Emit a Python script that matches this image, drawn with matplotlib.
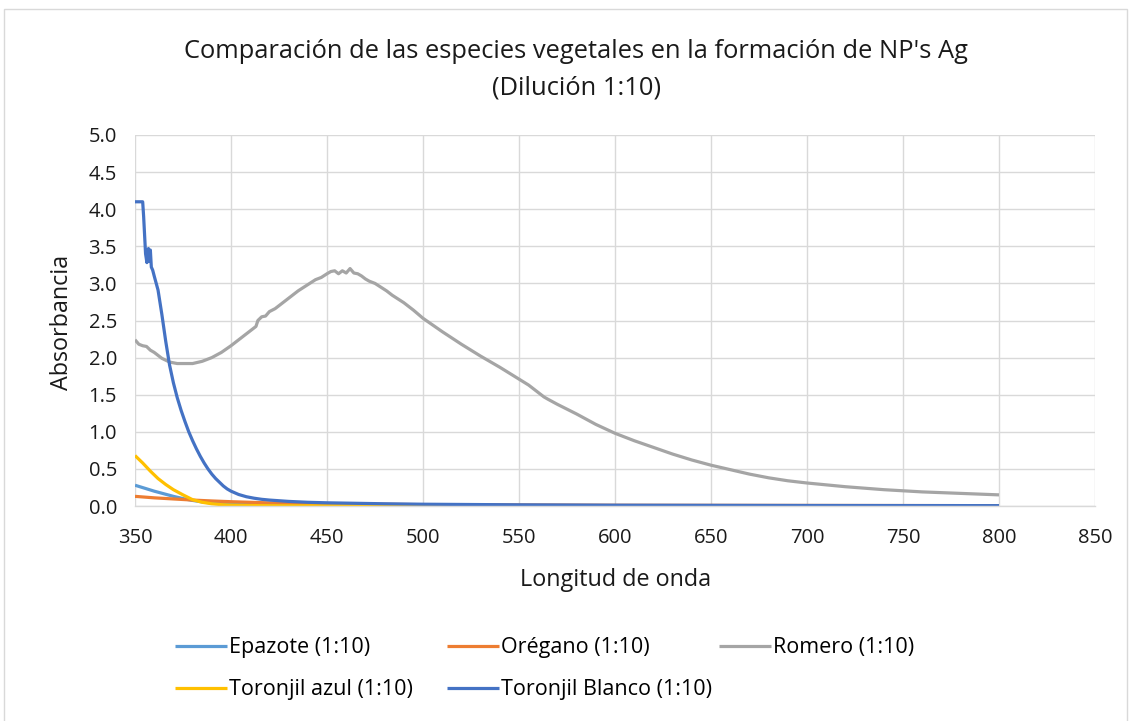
import matplotlib
matplotlib.use("Agg")
import matplotlib.pyplot as plt
from matplotlib.patches import Rectangle
from matplotlib.ticker import FormatStrFormatter, MultipleLocator

plt.rcParams['font.family'] = ['Open Sans', 'DejaVu Sans']

# ---- data ----
romero_wl = [350, 352, 354, 356, 358, 360, 364, 368, 372, 376, 380, 385, 390, 395, 400,
             405, 410, 413, 414, 416, 418, 420, 423, 426, 429, 432, 435, 438, 441, 444,
             447, 450, 452, 454, 456, 458, 460, 462, 464, 466, 468, 470, 472, 475, 478,
             481, 484, 487, 490, 495, 500, 510, 520, 530, 540, 550, 555, 560, 563, 565,
             570, 580, 590, 600, 610, 620, 630, 640, 650, 660, 670, 680, 690, 700, 720,
             740, 760, 780, 800]
romero_abs = [2.24, 2.18, 2.16, 2.15, 2.10, 2.07, 1.99, 1.94, 1.92, 1.92, 1.92, 1.95, 2.00, 2.07, 2.16,
              2.26, 2.36, 2.42, 2.50, 2.55, 2.56, 2.62, 2.66, 2.72, 2.78, 2.84, 2.90, 2.95, 3.00, 3.05,
              3.08, 3.13, 3.16, 3.17, 3.13, 3.17, 3.14, 3.20, 3.14, 3.13, 3.10, 3.06, 3.03, 3.00, 2.95,
              2.90, 2.84, 2.79, 2.74, 2.64, 2.53, 2.35, 2.18, 2.02, 1.87, 1.71, 1.63, 1.53, 1.47, 1.44,
              1.37, 1.24, 1.10, 0.98, 0.88, 0.79, 0.70, 0.62, 0.55, 0.49, 0.43, 0.38, 0.34, 0.31, 0.26,
              0.22, 0.19, 0.17, 0.15]

blanco_wl = [350, 352, 354, 354.5, 355.5, 356.2, 357, 357.5, 358, 358.5, 359.2, 360, 362, 364,
             366, 368, 370, 372, 374, 376, 378, 380, 382, 384, 386, 388, 390, 392, 394, 396,
             398, 400, 404, 408, 412, 416, 420, 430, 440, 450, 480, 500, 550, 600, 700, 800]
blanco_abs = [4.10, 4.10, 4.10, 3.90, 3.40, 3.28, 3.47, 3.30, 3.45, 3.22, 3.18, 3.10, 2.91, 2.58,
              2.22, 1.90, 1.66, 1.46, 1.29, 1.14, 1.00, 0.88, 0.77, 0.67, 0.58, 0.50, 0.43, 0.37,
              0.32, 0.27, 0.23, 0.20, 0.155, 0.125, 0.105, 0.09, 0.08, 0.062, 0.05, 0.043, 0.03,
              0.024, 0.016, 0.011, 0.007, 0.005]

azul_wl = [350, 354, 358, 362, 366, 370, 375, 380, 385, 390, 395, 400, 410, 430, 500, 600, 800]
azul_abs = [0.68, 0.58, 0.47, 0.37, 0.29, 0.22, 0.15, 0.085, 0.05, 0.03, 0.018, 0.012, 0.006,
            0.003, 0.0, 0.0, 0.0]

epazote_wl = [350, 355, 360, 365, 370, 375, 380, 385, 390, 400, 420, 450, 500, 600, 800]
epazote_abs = [0.28, 0.24, 0.20, 0.165, 0.13, 0.10, 0.075, 0.055, 0.04, 0.025, 0.015, 0.01,
               0.006, 0.004, 0.002]

oregano_wl = [350, 360, 370, 380, 390, 400, 420, 450, 500, 600, 800]
oregano_abs = [0.13, 0.11, 0.095, 0.08, 0.068, 0.058, 0.042, 0.03, 0.018, 0.01, 0.005]

series_names = ["Epazote (1:10)", "Orégano (1:10)", "Romero (1:10)",
                "Toronjil azul (1:10)", "Toronjil Blanco (1:10)"]
series_colors = ["#5B9BD5", "#ED7D31", "#A5A5A5", "#FFC000", "#4472C4"]

title_lines = ["Comparación de las especies vegetales en la formación de NP's Ag",
               "(Dilución 1:10)"]
x_label = "Longitud de onda"
y_label = "Absorbancia"

# ---- figure ----
W, H = 1130, 721
fig = plt.figure(figsize=(W / 100, H / 100), dpi=100)
fig.patch.set_facecolor("white")

fig.add_artist(Rectangle((4 / W, -0.01), (1127 - 4) / W, 1 - 9 / H + 0.01,
                         transform=fig.transFigure, fill=False,
                         edgecolor="#D9D9D9", linewidth=1.0))

ax = fig.add_axes([135 / W, 1 - 506 / H, (1095 - 135) / W, (506 - 135) / H])

data = [(epazote_wl, epazote_abs), (oregano_wl, oregano_abs), (romero_wl, romero_abs),
        (azul_wl, azul_abs), (blanco_wl, blanco_abs)]
handles = []
for (wl, ab), name, col in zip(data, series_names, series_colors):
    h, = ax.plot(wl, ab, color=col, lw=2.3, label=name, solid_capstyle="butt",
                 solid_joinstyle="round")
    handles.append(h)

ax.set_xlim(350, 850)
ax.set_ylim(0, 5.0)
ax.xaxis.set_major_locator(MultipleLocator(50))
ax.yaxis.set_major_locator(MultipleLocator(0.5))
ax.yaxis.set_major_formatter(FormatStrFormatter("%.1f"))
ax.grid(True, color="#D9D9D9", lw=1.0)
ax.set_axisbelow(True)
for s in ["top", "right", "left"]:
    ax.spines[s].set_visible(False)
ax.spines["bottom"].set_color("#D9D9D9")
ax.spines["bottom"].set_linewidth(1.0)
ax.tick_params(axis="both", length=0, labelsize=14.5, colors="#1a1a1a")
ax.tick_params(axis="y", pad=13)
ax.tick_params(axis="x", pad=16)

fig.text(576 / W, 1 - 51 / H, title_lines[0], ha="center", va="center",
         fontsize=18.4, color="#1a1a1a")
fig.text(576 / W, 1 - 88 / H, title_lines[1], ha="center", va="center",
         fontsize=18.4, color="#1a1a1a")
fig.text(62 / W, 1 - 322 / H, y_label, ha="center", va="center", rotation=90,
         fontsize=16.8, color="#1a1a1a")
fig.text(616 / W, 1 - 580 / H, x_label, ha="center", va="center",
         fontsize=16.8, color="#1a1a1a")

# legend: one entry per slot, placed like the reference (row-major order)
legend_slots = [(0, 175, 648), (1, 447, 648), (2, 719, 648),
                (3, 175, 690), (4, 447, 690)]
for i, x0, y0 in legend_slots:
    fig.legend([handles[i]], [series_names[i]],
               loc="center left", bbox_to_anchor=(x0 / W, 1 - y0 / H),
               frameon=False, fontsize=15.5, handlelength=2.42, handletextpad=0.1,
               borderpad=0, borderaxespad=0)

fig.savefig("out.png", dpi=100)
